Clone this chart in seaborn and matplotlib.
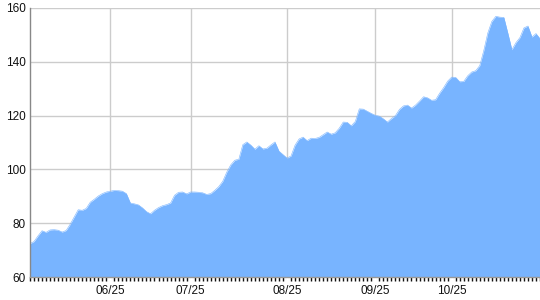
import matplotlib
matplotlib.use("Agg")
import matplotlib.pyplot as plt
import seaborn as sns
import pandas as pd
import numpy as np

values = [72.4, 73.2, 75.3, 77.2, 76.6, 77.5, 77.6, 77.4, 76.7, 77.3,
          79.6, 82.3, 85.0, 84.8, 85.5, 87.8, 88.9, 90.1, 91.0, 91.6,
          91.9, 92.2, 92.1, 91.9, 91.0, 87.5, 87.2, 86.8, 85.7, 84.3,
          83.5, 84.8, 85.8, 86.5, 86.9, 87.5, 90.4, 91.5, 91.6, 90.9,
          91.6, 91.6, 91.5, 91.3, 90.7, 91.0, 92.2, 93.6, 95.6, 99.0,
          101.7, 103.4, 103.8, 109.2, 110.2, 109.0, 107.5, 108.8, 107.6, 107.9,
          109.1, 110.2, 106.8, 105.5, 104.2, 105.0, 109.0, 111.3, 112.0, 110.7,
          111.6, 111.5, 111.9, 112.9, 113.9, 113.1, 113.6, 115.3, 117.6, 117.5,
          116.2, 117.8, 122.5, 122.4, 121.6, 120.8, 120.1, 119.8, 118.8, 117.6,
          118.9, 120.0, 122.3, 123.6, 123.9, 122.8, 123.9, 125.4, 127.0, 126.6,
          125.7, 125.9, 128.3, 130.4, 132.8, 134.3, 134.2, 132.6, 132.7, 134.8,
          136.2, 136.7, 138.6, 144.2, 150.7, 155.0, 156.9, 156.6, 156.5, 150.6,
          144.5, 147.1, 149.0, 152.6, 153.3, 149.2, 150.5, 148.6]

tick_labels = ["06/25", "07/25", "08/25", "09/25", "10/25"]
tick_index = [20, 40, 64, 86, 105]
y_ticks = [60, 80, 100, 120, 140, 160]

df = pd.DataFrame({"idx": np.arange(len(values)), "value": values})

sns.set_style("white")
plt.rcParams["font.family"] = ["Liberation Sans", "DejaVu Sans"]

fig = plt.figure(figsize=(5.4, 3.0), dpi=100)
ax = fig.add_axes([30 / 540, 1 - 277 / 300, 510 / 540, 269 / 300])

color = "#78b4ff"
sns.lineplot(data=df, x="idx", y="value", ax=ax, color=color, linewidth=0.4)
ax.fill_between(df["idx"], df["value"], y_ticks[0], color=color, linewidth=0)

ax.set_xlim(0, len(values) - 1)
ax.set_ylim(y_ticks[0], y_ticks[-1])
ax.set_xlabel("")
ax.set_ylabel("")

ax.set_yticks(y_ticks)
ax.set_xticks(tick_index)
ax.set_xticklabels(tick_labels)
ax.set_xticks(df["idx"], minor=True)

ax.grid(True, which="major", color="#cccccc", linewidth=1.0)
ax.set_axisbelow(True)

ax.tick_params(axis="y", which="major", left=False, length=0, pad=3, labelsize=8.5, labelcolor="#111111")
ax.tick_params(axis="x", which="major", bottom=True, length=0, pad=6, labelsize=8.5, labelcolor="#111111")
ax.tick_params(axis="x", which="minor", bottom=True, length=3, width=1, color="#111111", direction="out")

for s in ["top", "right"]:
    ax.spines[s].set_visible(False)
ax.spines["left"].set_color("#888888")
ax.spines["left"].set_linewidth(1)
ax.spines["bottom"].set_color("#999999")
ax.spines["bottom"].set_linewidth(1)

fig.savefig("out.png", dpi=100)
